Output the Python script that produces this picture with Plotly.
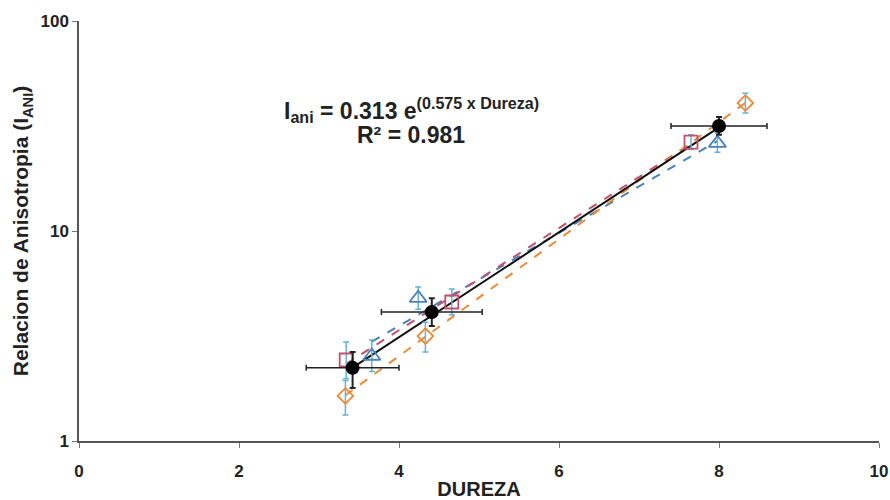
import numpy as np
import plotly.graph_objects as go

# Mean values (black) with horizontal and vertical spread
mean_dureza = [3.42, 4.41, 8.0]
mean_iani = [2.23, 4.11, 31.6]
mean_dx = [0.58, 0.63, 0.6]
mean_up = [0.42, 0.68, 3.3]
mean_down = [0.44, 0.58, 2.9]

# Individual series
tri_dureza = [3.66, 4.24, 7.98]
tri_iani = [2.54, 4.79, 26.2]
tri_up = [0.49, 0.62, 3.1]
tri_down = [0.4, 0.55, 2.5]

sq_dureza = [3.34, 4.66, 7.65]
sq_iani = [2.43, 4.59, 26.5]
sq_up = [0.53, 0.71, 2.2]
sq_down = [0.45, 0.6, 2.0]

dia_dureza = [3.33, 4.33, 8.33]
dia_iani = [1.64, 3.16, 40.7]
dia_up = [0.3, 0.52, 4.6]
dia_down = [0.31, 0.51, 4.2]

# Fitted model for the mean values
fit_a = 0.313
fit_b = 0.575
fit_r2 = 0.981

x_ticks = [0, 2, 4, 6, 8, 10]
y_ticks = [1, 10, 100]

ERR_COLOR = "#5fb3dc"
BLUE = "#4a82bd"
PINK = "#c0506b"
ORANGE = "#ee8a35"
FONT = "Liberation Sans, Arial"

fig = go.Figure()


def exp_fit(xs, ys):
    b, ln_a = np.polyfit(np.array(xs), np.log(np.array(ys)), 1)
    xx = np.linspace(min(xs), max(xs), 50)
    return xx, np.exp(ln_a) * np.exp(b * xx)


for xs, ys, col in [(tri_dureza, tri_iani, BLUE), (sq_dureza, sq_iani, PINK),
                    (dia_dureza, dia_iani, ORANGE)]:
    xx, yy = exp_fit(xs, ys)
    fig.add_trace(go.Scatter(x=xx, y=yy, mode="lines",
                             line=dict(color=col, width=2, dash="dash"),
                             hoverinfo="skip", showlegend=False))

# Mean trend line from the stated model
xm = np.linspace(min(mean_dureza), max(mean_dureza), 50)
fig.add_trace(go.Scatter(x=xm, y=fit_a * np.exp(fit_b * xm), mode="lines",
                         line=dict(color="#111111", width=2),
                         showlegend=False))

for xs, ys, up, dn, col, sym, size in [
    (tri_dureza, tri_iani, tri_up, tri_down, BLUE, "triangle-up-open", 15),
    (sq_dureza, sq_iani, sq_up, sq_down, PINK, "square-open", 13),
    (dia_dureza, dia_iani, dia_up, dia_down, ORANGE, "diamond-open", 12),
]:
    fig.add_trace(go.Scatter(
        x=xs, y=ys, mode="markers",
        marker=dict(symbol=sym, size=size, color=col,
                    line=dict(color=col, width=1.8)),
        error_y=dict(type="data", array=up, arrayminus=dn,
                     color=ERR_COLOR, thickness=1.5, width=3),
        showlegend=False))

fig.add_trace(go.Scatter(
    x=mean_dureza, y=mean_iani, mode="markers",
    marker=dict(symbol="circle", size=14, color="black"),
    error_x=dict(type="data", array=mean_dx, color="#222222",
                 thickness=1.5, width=3),
    error_y=dict(type="data", array=mean_up, arrayminus=mean_down,
                 color="#222222", thickness=2, width=3),
    showlegend=False))

# Equation and goodness of fit, two tightly spaced lines
fig.add_annotation(
    x=0.415, y=0.787, xref="paper", yref="paper", showarrow=False,
    yanchor="middle",
    text=f"<b>I<sub>ani</sub> = {fit_a} e<sup>({fit_b} x Dureza)</sup></b>",
    font=dict(family=FONT, size=23, color="#222222"))
fig.add_annotation(
    x=0.415, y=0.728, xref="paper", yref="paper", showarrow=False,
    yanchor="middle",
    text=f"<b>R² = {fit_r2}</b>",
    font=dict(family=FONT, size=23, color="#222222"))

fig.update_layout(
    width=890, height=500,
    margin=dict(l=79, r=11, t=21, b=59),
    paper_bgcolor="white", plot_bgcolor="white",
    font=dict(family=FONT, color="#222222"),
    xaxis=dict(range=[0, 10], tickvals=x_ticks,
               ticktext=[str(v) for v in x_ticks],
               showgrid=False, zeroline=False, automargin=False,
               showline=True, linecolor="#555555", linewidth=1.5,
               ticks="outside", ticklen=5, tickcolor="#777777",
               ticklabelstandoff=9,
               tickfont=dict(size=17, family=FONT, weight="bold",
                             color="#222222"),
               title=dict(text="<b>DUREZA</b>", standoff=2,
                          font=dict(size=20))),
    yaxis=dict(type="log", range=[0, 2], tickvals=y_ticks,
               ticktext=[str(v) for v in y_ticks],
               showgrid=False, zeroline=False, automargin=False,
               showline=True, linecolor="#555555", linewidth=1.5,
               ticks="outside", ticklen=5, tickcolor="#777777",
               tickfont=dict(size=17, family=FONT, weight="bold",
                             color="#222222"),
               title=dict(text="<b>Relacion de Anisotropia (I<sub>ANI</sub>)</b>",
                          standoff=6, font=dict(size=21))),
)

fig.write_html("out.html")
